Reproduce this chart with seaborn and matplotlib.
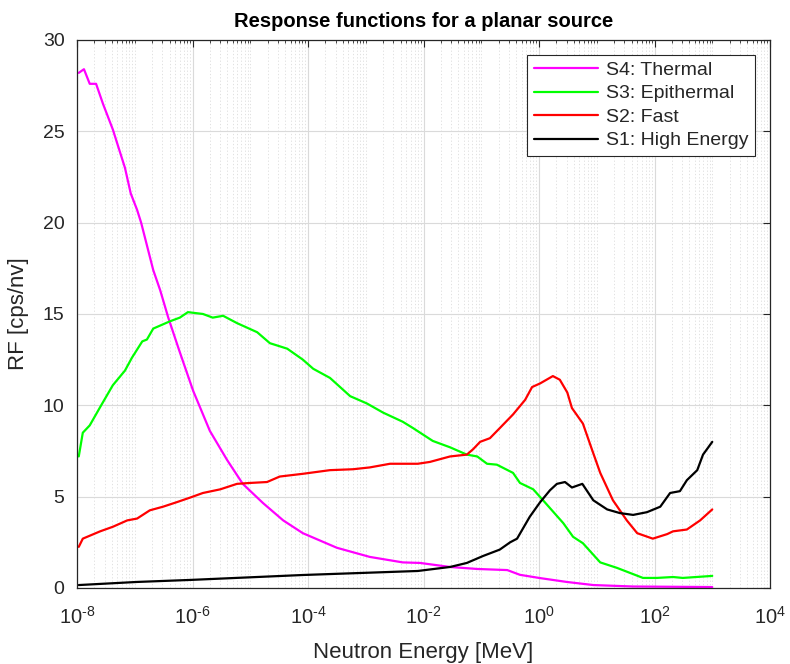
import numpy as np
import pandas as pd
import seaborn as sns
import matplotlib
matplotlib.use("Agg")
import matplotlib.pyplot as plt
from matplotlib.ticker import LogLocator, FixedLocator, NullFormatter

# exponents (log10 of energy in MeV) and response values
thermal_exp = [-7.97, -7.88, -7.78, -7.67, -7.55, -7.38, -7.25, -7.17, -7.07, -6.96,
               -6.89, -6.68, -6.56, -6.42, -6.23, -5.99, -5.70, -5.40, -5.13, -4.78,
               -4.43, -4.09, -3.50, -2.93, -2.36, -2.06, -1.54, -1.07, -0.55, -0.33,
               0.02, 0.48, 0.94, 1.63, 3.0]
thermal_rf = [28.2, 28.4, 27.6, 27.6, 26.5, 25.1, 23.8, 23.0, 21.6, 20.7,
              20.0, 17.4, 16.3, 14.8, 13.0, 10.8, 8.6, 7.0, 5.7, 4.65,
              3.7, 3.0, 2.2, 1.7, 1.4, 1.37, 1.15, 1.04, 0.98, 0.72,
              0.54, 0.33, 0.16, 0.08, 0.05]

epi_exp = [-7.97, -7.90, -7.78, -7.60, -7.38, -7.17, -7.05, -6.87, -6.79, -6.68,
           -6.39, -6.22, -6.08, -5.82, -5.65, -5.47, -5.23, -4.88, -4.66, -4.36,
           -4.09, -3.91, -3.62, -3.27, -2.98, -2.70, -2.36, -2.18, -1.84, -1.54,
           -1.25, -1.07, -0.90, -0.73, -0.45, -0.33, -0.10, 0.07, 0.42, 0.59,
           0.76, 1.06, 1.35, 1.80, 2.04, 2.32, 2.49, 3.0]
epi_rf = [7.2, 8.5, 8.9, 9.9, 11.1, 11.9, 12.6, 13.5, 13.6, 14.2,
          14.6, 14.8, 15.1, 15.0, 14.8, 14.9, 14.5, 14.0, 13.4, 13.1,
          12.5, 12.0, 11.5, 10.5, 10.1, 9.6, 9.1, 8.75, 8.05, 7.7,
          7.3, 7.2, 6.8, 6.75, 6.3, 5.75, 5.4, 4.8, 3.55, 2.8,
          2.45, 1.4, 1.1, 0.55, 0.55, 0.6, 0.55, 0.66]

fast_exp = [-7.97, -7.90, -7.60, -7.38, -7.13, -6.96, -6.74, -6.51, -6.27, -6.04,
            -5.82, -5.52, -5.23, -5.00, -4.71, -4.49, -4.09, -3.62, -3.22, -2.93,
            -2.58, -2.10, -1.89, -1.54, -1.25, -1.14, -1.02, -0.85, -0.68, -0.45,
            -0.24, -0.12, 0.02, 0.24, 0.36, 0.49, 0.57, 0.76, 0.92, 1.06,
            1.28, 1.52, 1.70, 1.97, 2.22, 2.32, 2.56, 2.79, 3.0]
fast_rf = [2.25, 2.7, 3.1, 3.35, 3.7, 3.8, 4.25, 4.45, 4.7, 4.95,
           5.2, 5.4, 5.7, 5.75, 5.8, 6.1, 6.25, 6.45, 6.5, 6.6,
           6.8, 6.8, 6.9, 7.2, 7.3, 7.6, 8.0, 8.2, 8.75, 9.5,
           10.3, 11.0, 11.2, 11.6, 11.4, 10.7, 9.85, 9.0, 7.55, 6.3,
           4.8, 3.7, 3.0, 2.7, 2.95, 3.1, 3.2, 3.7, 4.3]

high_exp = [-7.97, -6.96, -6.04, -4.09, -2.10, -1.54, -1.25, -0.97, -0.68, -0.50,
            -0.38, -0.16, 0.02, 0.19, 0.31, 0.45, 0.57, 0.75, 0.94, 1.18,
            1.40, 1.63, 1.87, 2.10, 2.27, 2.44, 2.56, 2.74, 2.84, 3.0]
high_rf = [0.16, 0.33, 0.44, 0.71, 0.93, 1.15, 1.37, 1.75, 2.1, 2.5,
           2.7, 3.9, 4.7, 5.35, 5.7, 5.8, 5.5, 5.7, 4.8, 4.3,
           4.1, 4.0, 4.15, 4.45, 5.2, 5.3, 5.9, 6.45, 7.3, 8.0]

names = ["S4: Thermal", "S3: Epithermal", "S2: Fast", "S1: High Energy"]
colors = ["#ff00ff", "#00ff00", "#ff0000", "#000000"]
xtick_exp = [-8, -6, -4, -2, 0, 2, 4]

frames = []
for name, ex, rf in zip(names, [thermal_exp, epi_exp, fast_exp, high_exp],
                        [thermal_rf, epi_rf, fast_rf, high_rf]):
    frames.append(pd.DataFrame({"energy": 10.0 ** np.array(ex), "rf": rf, "series": name}))
df = pd.concat(frames, ignore_index=True)

sns.set_style("white")
plt.rcParams["font.family"] = ["Liberation Sans", "DejaVu Sans"]
plt.rcParams["mathtext.default"] = "regular"

fig = plt.figure(figsize=(7.9, 6.64), dpi=100)
ax = fig.add_axes([0.0975, 0.1145, 0.8772, 0.8253])

sns.lineplot(data=df, x="energy", y="rf", hue="series", hue_order=names,
             palette=dict(zip(names, colors)), estimator=None, sort=False,
             linewidth=1.6, ax=ax)

ax.set_xscale("log")
ax.set_xlim(1e-8, 1e4)
ax.set_ylim(0, 30)
ax.xaxis.set_major_locator(FixedLocator([10.0 ** k for k in xtick_exp]))
ax.xaxis.set_minor_locator(LogLocator(base=10, subs=np.arange(1, 10), numticks=100))
ax.xaxis.set_minor_formatter(NullFormatter())
# MATLAB style exponents with a short hyphen
ax.set_xticklabels(["$10^{%s}$" % str(k).replace("-", "\u2010") for k in xtick_exp])
ax.set_yticks(range(0, 31, 5))

ax.grid(True, which="major", color="#dadada", linewidth=0.8)
ax.grid(True, which="minor", color="#dcdcdc", linestyle=(0, (1.5, 2.5)), linewidth=0.6)
ax.tick_params(which="both", direction="in", top=True, right=True, colors="#262626",
               labelsize=14.5)
ax.tick_params(axis="y", which="major", length=5, pad=9, labelsize=14)
ax.tick_params(axis="x", which="major", length=5, pad=13)
ax.tick_params(which="minor", length=2.5)
for s in ax.spines.values():
    s.set_color("#262626")
    s.set_linewidth(0.9)

ax.set_xlabel("Neutron Energy [MeV]", fontsize=16, color="#262626", labelpad=10)
ax.set_ylabel("RF [cps/nv]", fontsize=16, color="#262626", labelpad=10)
ax.set_title("Response functions for a planar source", fontsize=14.5, fontweight="bold",
             color="black", pad=9)

leg = ax.legend(loc="upper right", fontsize=14, frameon=True, fancybox=False,
                edgecolor="#262626", borderaxespad=0.75, handlelength=3.3,
                labelspacing=0.3, borderpad=0.35, handletextpad=0.4)
leg.get_frame().set_linewidth(0.8)
leg.get_frame().set_alpha(1)

fig.savefig("out.png", dpi=100)
